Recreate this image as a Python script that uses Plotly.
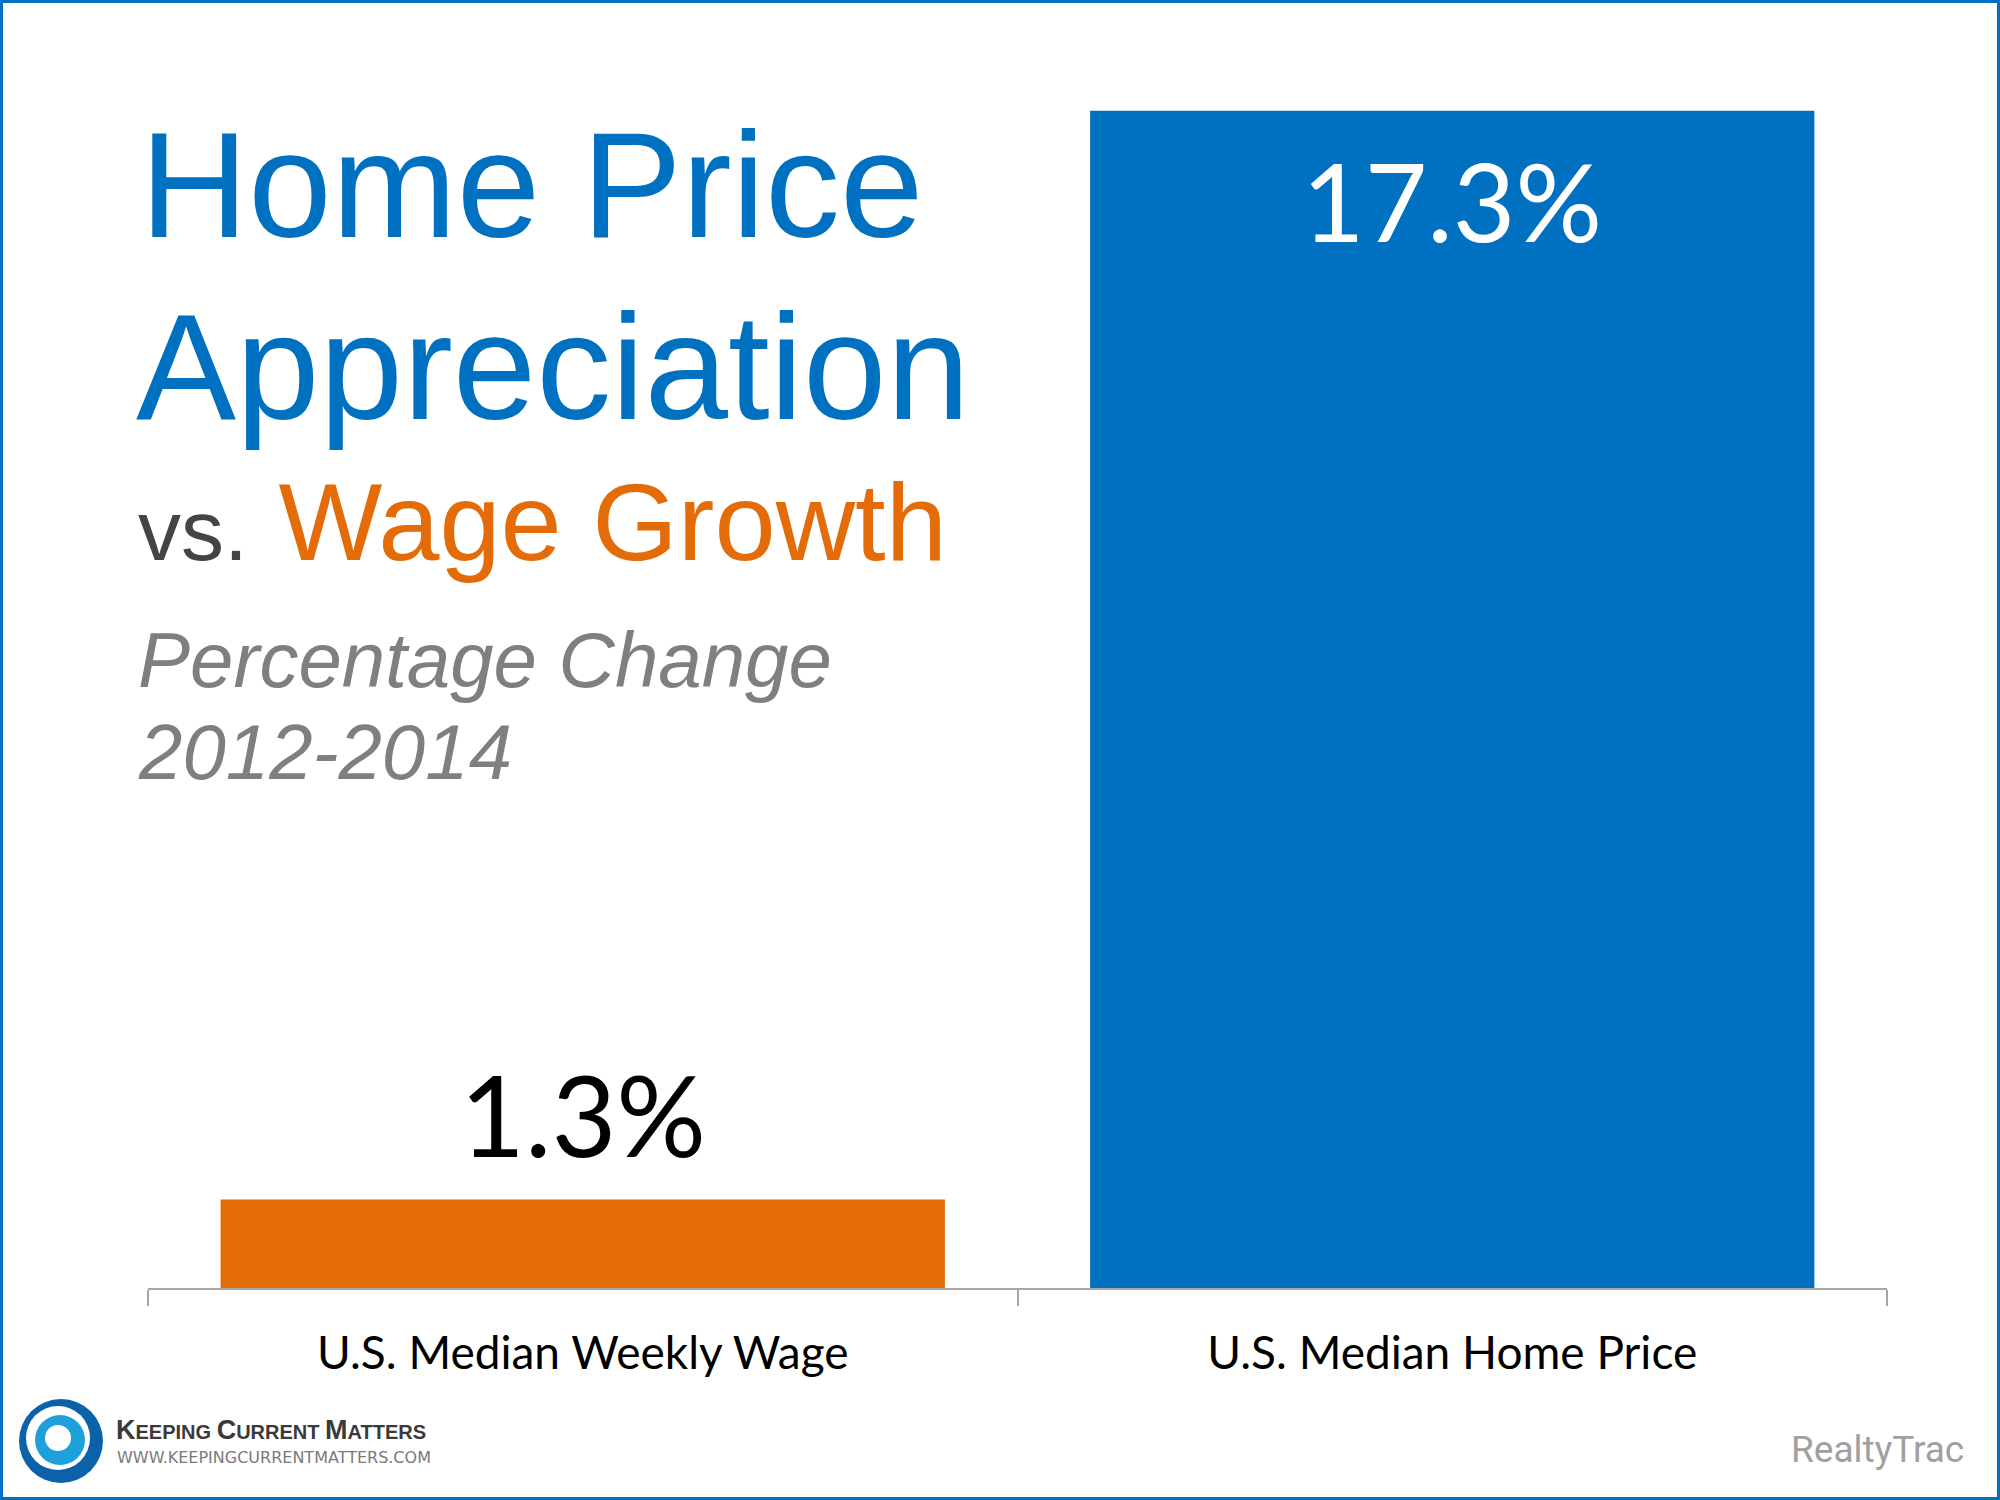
import plotly.graph_objects as go

# data
categories = ["U.S. Median Weekly Wage", "U.S. Median Home Price"]
pct_change = [1.3, 17.3]
bar_colors = ["#E36C09", "#0070C0"]
label_colors = ["#000000", "#FFFFFF"]

W, H = 2000, 1500
L, R, T, B = 148, 113, 63, 212


def px(x):
    # pixel x -> paper x
    return (x - L) / (W - L - R)


def py(y):
    # pixel y (from top) -> paper y
    return (H - B - y) / (H - T - B)


fig = go.Figure()
fig.add_trace(go.Bar(x=categories, y=pct_change, marker_color=bar_colors,
                     marker_line_width=0, hoverinfo="skip"))

# value labels: first above the bar, second inside near the top
shifts = [86, -89]
sizes = [112, 108]
for cat, v, c, s, fs in zip(categories, pct_change, label_colors, shifts, sizes):
    fig.add_annotation(x=cat, y=v, text=f"{v}%", showarrow=False, yshift=s,
                       xanchor="center", yanchor="middle",
                       font=dict(family="Lato", size=fs, color=c))

# titles
title_font = "Liberation Sans"
fig.add_annotation(x=px(138), y=py(185), xref="paper", yref="paper", text="Home Price",
                   showarrow=False, xanchor="left", yanchor="middle",
                   font=dict(family=title_font, size=150, color="#0070C0"))
fig.add_annotation(x=px(134), y=py(367), xref="paper", yref="paper", text="Appreciation",
                   showarrow=False, xanchor="left", yanchor="middle",
                   font=dict(family=title_font, size=150, color="#0070C0"))
fig.add_annotation(x=px(136), y=py(521), xref="paper", yref="paper",
                   text="<span style='color:#444444;font-size:86px'>vs.</span> Wage Growth",
                   showarrow=False, xanchor="left", yanchor="middle",
                   font=dict(family=title_font, size=110, color="#E36C09"))
fig.add_annotation(x=px(136), y=py(660), xref="paper", yref="paper",
                   text="<i>Percentage Change</i>",
                   showarrow=False, xanchor="left", yanchor="middle",
                   font=dict(family=title_font, size=78, color="#7F7F7F"))
fig.add_annotation(x=px(136), y=py(752), xref="paper", yref="paper",
                   text="<i>2012-2014</i>",
                   showarrow=False, xanchor="left", yanchor="middle",
                   font=dict(family=title_font, size=78, color="#7F7F7F"))

# source
fig.add_annotation(x=px(1966), y=py(1449), xref="paper", yref="paper", text="RealtyTrac",
                   showarrow=False, xanchor="right", yanchor="middle",
                   font=dict(family="Roboto", size=37, color="#A0A0A0"))

# logo text
fig.add_annotation(x=px(114), y=py(1430), xref="paper", yref="paper",
                   text="<b><span style='font-size:27px'>K</span>EEPING "
                        "<span style='font-size:27px'>C</span>URRENT "
                        "<span style='font-size:27px'>M</span>ATTERS</b>",
                   showarrow=False, xanchor="left", yanchor="middle",
                   font=dict(family="Liberation Sans", size=20, color="#3A3A3A"))
fig.add_annotation(x=px(115), y=py(1458), xref="paper", yref="paper",
                   text="WWW.KEEPINGCURRENTMATTERS.COM",
                   showarrow=False, xanchor="left", yanchor="middle",
                   font=dict(family="DejaVu Sans", size=16, color="#7A7A7A"))

# logo swirl, rough circles
logo = [(61, 1441, 42, "#0B62A8"), (58, 1438, 32, "#FFFFFF"),
        (60, 1440, 25, "#1EA0DB"), (58, 1438, 13, "#FFFFFF")]
for cx, cy, r, col in logo:
    fig.add_shape(type="circle", xref="paper", yref="paper",
                  x0=px(cx - r), x1=px(cx + r), y0=py(cy + r), y1=py(cy - r),
                  fillcolor=col, line_width=0, layer="above")

# frame
fig.add_shape(type="rect", xref="paper", yref="paper",
              x0=px(1.5), x1=px(W - 1.5), y0=py(H - 1.5), y1=py(1.5),
              line=dict(color="#0070C0", width=3), fillcolor="rgba(0,0,0,0)")

fig.update_layout(width=W, height=H, margin=dict(l=L, r=R, t=T, b=B),
                  paper_bgcolor="white", plot_bgcolor="white",
                  bargap=0.167, showlegend=False)
fig.update_xaxes(showline=True, linecolor="#A6A6A6", linewidth=2,
                 ticks="outside", tickson="boundaries", ticklen=16, tickcolor="#A6A6A6",
                 tickwidth=2, showgrid=False, ticklabelstandoff=24,
                 tickfont=dict(family="Lato", size=46, color="#000000"))
fig.update_yaxes(range=[0, 18], visible=False)

fig.write_html("out.html", config={"displayModeBar": False},
               post_script="document.body.style.margin='0';")
